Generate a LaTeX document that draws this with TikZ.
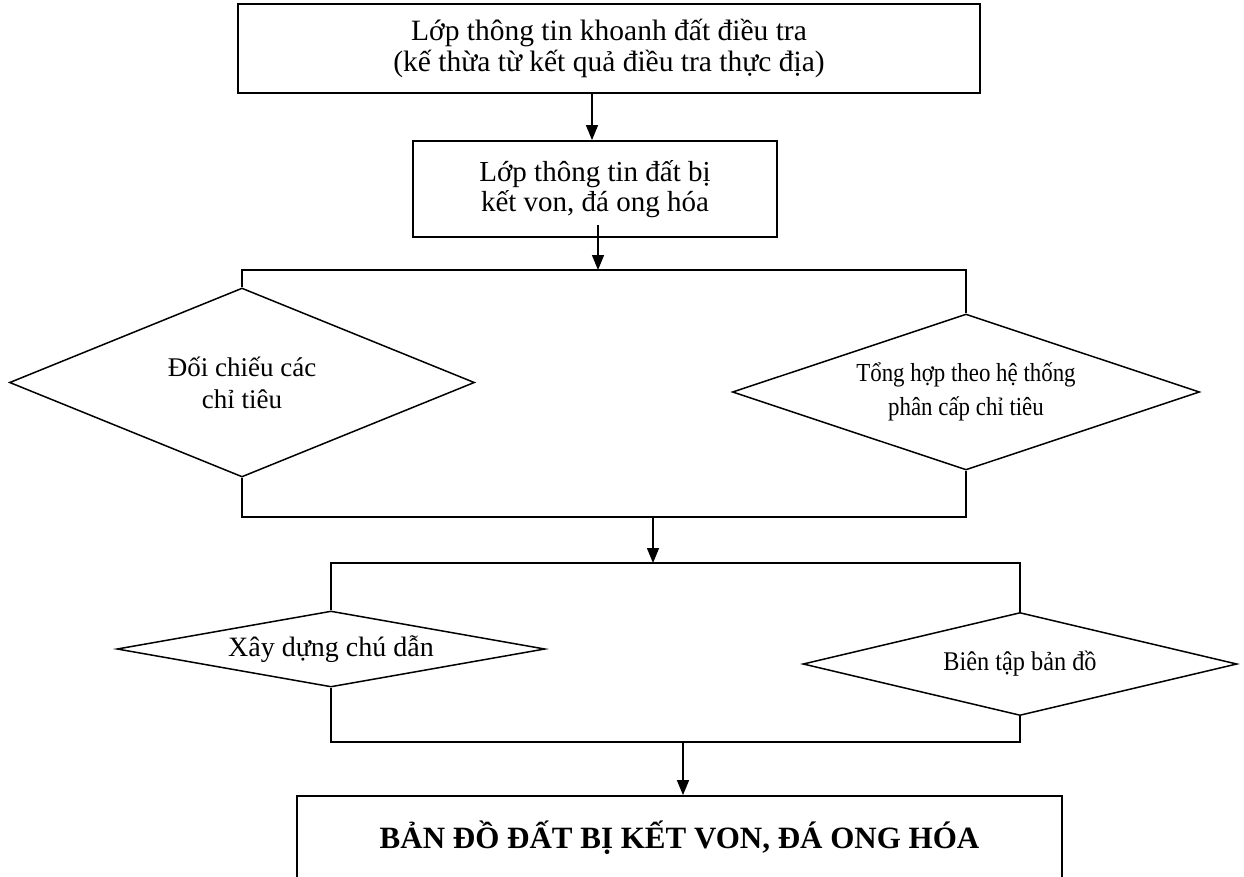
\documentclass[tikz,border=0pt]{standalone}
\usepackage{fontspec}
\setmainfont{Liberation Serif}
\usepackage{graphicx}
\usetikzlibrary{shapes.geometric,arrows.meta,calc}
\begin{document}
\begin{tikzpicture}[x=1pt,y=-1pt,
  box/.style={draw,line width=1.8pt,inner sep=0pt,align=center,font=\fontsize{29}{31}\selectfont},
  dia/.style={draw,diamond,line width=1.5pt,inner sep=0pt,align=center},
  conn/.style={line width=1.5pt},
  arr/.style={conn,-{Triangle[width=12pt,length=15pt]}}]
\useasboundingbox (0,0) rectangle (1244,876);
% boxes
\node[box,minimum width=742pt,minimum height=89pt,font=\fontsize{29.5}{31}\selectfont] (b1) at (609,48.5)
  {Lớp thông tin khoanh đất điều tra\\(kế thừa từ kết quả điều tra thực địa)};
\node[box,minimum width=364pt,minimum height=96pt,font=\fontsize{29}{30}\selectfont] (b2) at (595,189)
  {Lớp thông tin đất bị\\kết von, đá ong hóa};
% diamonds
\node[dia,minimum width=465pt,minimum height=189pt,aspect=2.46,font=\fontsize{27}{32}\selectfont] (d1) at (242,382.5)
  {Đối chiếu các\\chỉ tiêu};
\node[dia,minimum width=467pt,minimum height=156pt,aspect=3,font=\fontsize{26}{34}\selectfont] (d2) at (966,392)
  {\scalebox{0.88}[1]{Tổng hợp theo hệ thống}\\\scalebox{0.88}[1]{phân cấp chỉ tiêu}};
\node[dia,minimum width=428pt,minimum height=76pt,aspect=5.63,font=\fontsize{28}{30}\selectfont] (d3) at (331,649)
  {Xây dựng chú dẫn};
\node[dia,minimum width=434pt,minimum height=103pt,aspect=4.2,font=\fontsize{27}{30}\selectfont] (d4) at (1020,664)
  {\scalebox{0.9}[1]{Biên tập bản đồ}};
\node[box,minimum width=765pt,minimum height=84pt,font=\bfseries\fontsize{31}{33}\selectfont] (b3) at (679.5,838)
  {BẢN ĐỒ ĐẤT BỊ KẾT VON, ĐÁ ONG HÓA};
% connectors
\coordinate (a1) at (592,0);
\draw[arr] (b1.south -| a1) -- (b2.north -| a1);
\coordinate (s2) at (598,225);
\coordinate (j1) at (598,270);
\draw[arr] (s2) -- (j1);
\draw[conn] (d1.north) -- (d1.north |- j1) -- (d2.north |- j1) -- (d2.north);
\coordinate (j2) at (653,517);
\draw[conn] (d1.south) -- (d1.south |- j2) -- (d2.south |- j2) -- (d2.south);
\coordinate (j3) at (653,563);
\draw[arr] (j2) -- (j3);
\draw[conn] (d3.north) -- (d3.north |- j3) -- (d4.north |- j3) -- (d4.north);
\coordinate (j4) at (683,742);
\draw[conn] (d3.south) -- (d3.south |- j4) -- (d4.south |- j4) -- (d4.south);
\draw[arr] (j4) -- (b3.north -| j4);
\end{tikzpicture}
\end{document}
